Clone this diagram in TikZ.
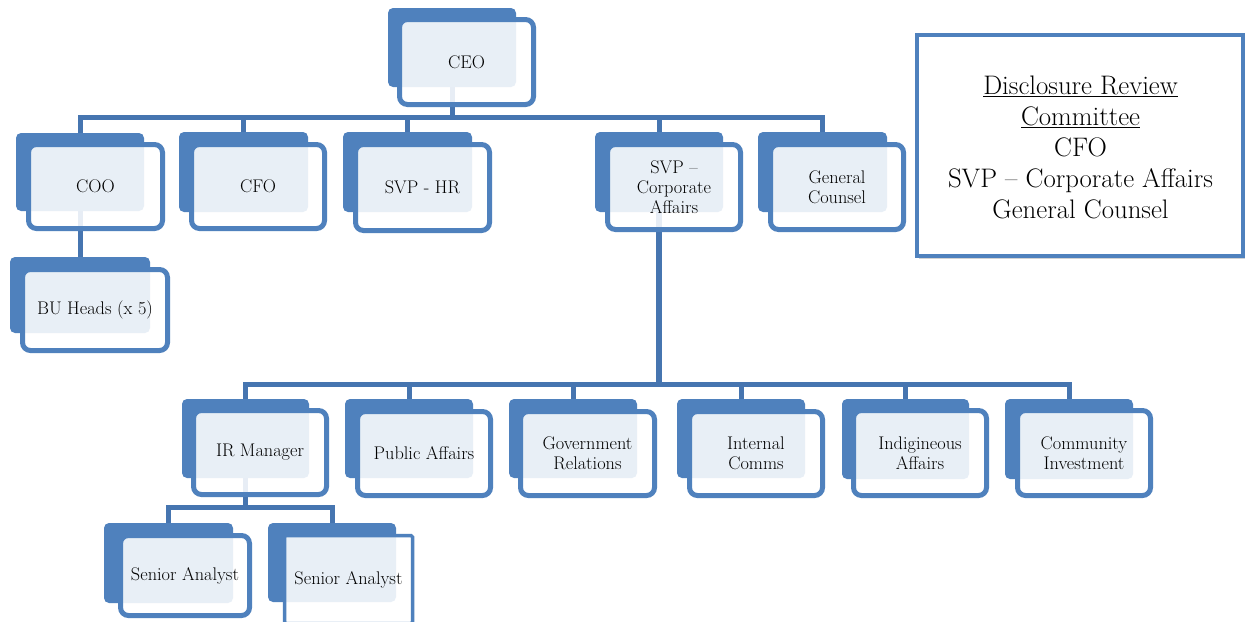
\documentclass[tikz,border=0pt]{standalone}
\usetikzlibrary{shadows}
\definecolor{boxblue}{HTML}{4F81BD}
\definecolor{lineblue}{HTML}{4675B0}
\pgfdeclarelayer{bgwhite}
\pgfdeclarelayer{back}
\pgfdeclarelayer{conn}
\pgfsetlayers{bgwhite,back,conn,main}
\tikzset{
  backbox/.style={fill=boxblue, rounded corners=5pt, inner sep=0pt, outer sep=0pt},
  frontbox/.style={draw=boxblue, line width=5pt, rounded corners=8pt, fill=white,
    fill opacity=0.875, text opacity=1, text=black, align=center, inner sep=0pt,
    outer sep=0pt, font=\fontsize{18.3}{20}\selectfont},
  conn/.style={draw=lineblue, line width=5pt},
  drcfont/.style={font=\fontsize{26.8}{31}\selectfont, align=center},
}
\def\getbox#1,#2,#3,#4\relax{\def\bxa{#1}\def\bya{#2}\def\bxb{#3}\def\byb{#4}}
\newcommand\orgbox[5][]{%
  \getbox#3\relax
  \begin{pgfonlayer}{back}
  \node[backbox, minimum width={\bxb-\bxa}, minimum height={\byb-\bya}]
    (#2b) at ({(\bxa+\bxb)/2},{(\bya+\byb)/2}) {};
  \end{pgfonlayer}
  \getbox#4\relax
  \node[frontbox, minimum width={\bxb-\bxa-5}, minimum height={\byb-\bya-5}, #1]
    (#2) at ({(\bxa+\bxb)/2},{(\bya+\byb)/2}) {#5};
}
\begin{document}
\begin{tikzpicture}[x=1pt,y=-1pt]
\useasboundingbox (0,0) rectangle (1247,621);
\begin{pgfonlayer}{bgwhite}
\fill[white] (0,0) rectangle (1247,621);
\end{pgfonlayer}

% boxes
\orgbox{ceo}{388,8,516,87}{397,17,536,107}{CEO}
\orgbox{coo}{16,133,144,211}{26,142,165,231}{COO}
\orgbox{cfo}{179,132,308,212}{189,142,327,231}{CFO}
\orgbox{hr}{343,132,472,212}{353,142,492,233}{SVP - HR}
\orgbox{svp}{595,132,723,212}{605,142,743,232}{SVP \textendash\\Corporate\\Affairs}
\orgbox{gc}{758,132,887,212}{768,142,906,232}{General\\Counsel}
\orgbox{bu}{10,257,150,333}{20,267,170,353}{BU Heads (x 5)}

\orgbox{ir}{182,399,309,478}{191,408,329,497}{IR Manager}
\orgbox{pa}{345,399,473,478}{355,409,493,498}{Public Affairs}
\orgbox{gr}{509,399,637,478}{518,409,657,498}{Government\\Relations}
\orgbox{ic}{677,399,805,478}{687,409,825,498}{Internal\\Comms}
\orgbox{ia}{842,399,969,479}{851,408,989,498}{Indigineous\\Affairs}
\orgbox{ci}{1005,399,1133,479}{1015,408,1153,498}{Community\\Investment}

\orgbox{saa}{104,523,233,603}{118,533,252,618}{Senior Analyst}
\orgbox[line width=3.5pt, rounded corners=1.5pt]{sab}{268,523,396,602}{282,533,415,626}{Senior Analyst}

% connectors
\begin{pgfonlayer}{conn}
\coordinate (topbar) at (452,117);
\draw[conn] (ceob.south) -- (topbar);
\foreach \c in {coob,cfob,hrb,svpb,gcb}{\draw[conn] (topbar) -| (\c.north);}
\draw[conn] (coob.south) -- (bub.north);
\coordinate (midbar) at (659,384);
\draw[conn, line width=6pt] (svpb.south) -- (midbar);
\foreach \c in {irb,pab,grb,icb,iab,cib}{\draw[conn] (midbar) -| (\c.north);}
\coordinate (lowbar) at (245.5,507);
\draw[conn] (irb.south) -- (lowbar);
\foreach \c in {saab,sabb}{\draw[conn] (lowbar) -| (\c.north);}
\end{pgfonlayer}

% disclosure review committee
\node[draw=boxblue, line width=4pt, fill=white, minimum width=326pt, minimum height=221pt,
  inner sep=0pt, drop shadow={shadow xshift=2pt, shadow yshift=-3pt, opacity=0.35}]
  (drc) at (1080,145.5) {};
\node[drcfont, text=black] (drctext) at (1080.5,147.5)
  {\underline{Disclosure Review}\\\underline{Committee}\\CFO\\SVP \textendash{} Corporate Affairs\\General Counsel};
\end{tikzpicture}
\end{document}
